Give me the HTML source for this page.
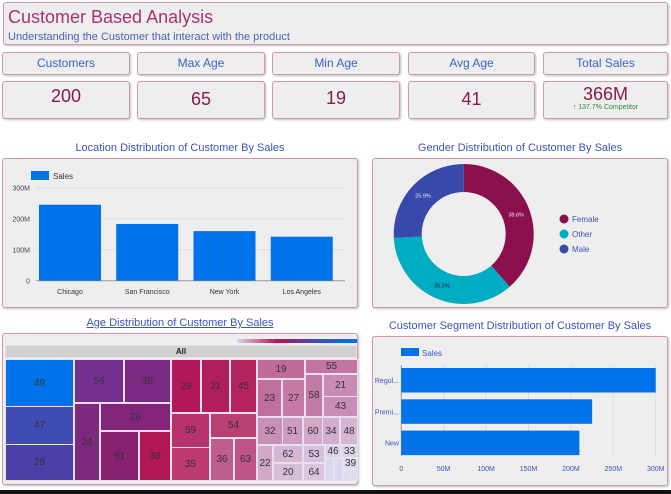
<!DOCTYPE html>
<html><head><meta charset="utf-8">
<style>
*{box-sizing:border-box;margin:0;padding:0}
body{width:671px;height:494px;background:#fff;font-family:"Liberation Sans",sans-serif;position:relative;overflow:hidden}
.box{position:absolute;background:#eeeeee;border:1.5px solid #cf97b4;border-radius:3px;box-shadow:1px 1px 2px rgba(0,0,0,.25)}
.lbl{color:#3a63c8;font-size:12px;text-align:center;line-height:21px}
.val{color:#8a1a4c;font-size:18px;text-align:center;padding-top:5px}
.ttl{position:absolute;color:#3a55b8;font-size:11px;text-align:center}
.cell{position:absolute;border:1px solid #e8e0ea;font-size:10px;color:#333;display:flex;align-items:center;justify-content:center}
</style></head><body>
<div class="box" style="left:3px;top:2px;width:665px;height:43px">
 <div style="position:absolute;left:4px;top:4px;font-size:18px;color:#a8336f">Customer Based Analysis</div>
 <div style="position:absolute;left:4px;top:28px;font-size:11px;color:#5060b8">Understanding the Customer that interact with the product</div>
</div>
<div class="box lbl" style="left:2px;top:52px;width:128px;height:23px">Customers</div>
<div class="box lbl" style="left:137px;top:52px;width:128px;height:23px">Max Age</div>
<div class="box lbl" style="left:272px;top:52px;width:128px;height:23px">Min Age</div>
<div class="box lbl" style="left:408px;top:52px;width:127px;height:23px">Avg Age</div>
<div class="box lbl" style="left:543px;top:52px;width:125px;height:23px">Total Sales</div>
<div class="box val" style="left:2px;top:81px;width:128px;height:38px;padding-top:4px">200</div>
<div class="box val" style="left:137px;top:81px;width:128px;height:38px;padding-top:7px">65</div>
<div class="box val" style="left:272px;top:81px;width:128px;height:38px;padding-top:6px">19</div>
<div class="box val" style="left:408px;top:81px;width:127px;height:38px;padding-top:7px">41</div>
<div class="box val" style="left:543px;top:81px;width:125px;height:38px;padding-top:3px;line-height:18px">366M<div style="font-size:7px;color:#2e8b3a;line-height:9px">↑ 137.7% Competitor</div></div>

<div class="ttl" style="left:2px;top:142px;width:356px">Location Distribution of Customer By Sales</div>
<div class="ttl" style="left:372px;top:142px;width:296px">Gender Distribution of Customer By Sales</div>
<div class="ttl" style="left:2px;top:317px;width:356px;text-decoration:underline">Age Distribution of Customer By Sales</div>
<div class="ttl" style="left:372px;top:320px;width:296px">Customer Segment Distribution of Customer By Sales</div>

<div class="box" style="left:2px;top:158px;width:356px;height:150px"></div>
<div class="box" style="left:372px;top:158px;width:296px;height:150px"></div>
<div class="box" style="left:2px;top:333px;width:356px;height:152px"></div>
<div class="box" style="left:372px;top:336px;width:296px;height:150px"></div>
<div style="position:absolute;left:0;top:490px;width:671px;height:4px;background:#111"></div>

<svg id="s" width="671" height="494" style="position:absolute;left:0;top:0" font-family="Liberation Sans, sans-serif"></svg>
<div id="tm"></div>
<script>
const locCats=["Chicago","San Francisco","New York","Los Angeles"];
const locSales=[245,183,160,142];
const locTicks=[0,100,200,300];
const locTickLabels=["0","100M","200M","300M"];
const segCats=["Regul...","Premi...","New"];
const segSales=[300,225,210];
const segTicks=[0,50,100,150,200,250,300];
const segTickLabels=["0","50M","100M","150M","200M","250M","300M"];
const genderCats=["Female","Other","Male"];
const genderPct=[38.6,35.5,25.9];
const genderColors=["#8a0f4c","#00acc1","#3949ab"];
const ageLabels=["49","47","28","56","38","24","26","61","30","29","31","45","59","54","35","36","63","19","55","23","27","58","21","43","32","51","60","34","48","22","62","20","53","64","46","33","39","","","",""];
const ageColors=["#0073ea","#3f4db2","#4a40a8","#74308f","#7b2a84","#7b287e","#82247a","#86206f","#b01754","#b0185a","#b01e5b","#b4245f","#b7326b","#b94073","#bb3a6f","#bf5d8e","#c0548a","#bf6a98","#c274a2","#c06f9c","#c67ba6","#c27aa6","#c98bb4","#ca8eb6","#c990b7","#cf9cc1","#d3a8c8","#d3add0","#d8b5d4","#d0a8c8","#d6b5d5","#d8bcdc","#d8c0dc","#dcc4e0","#dcd0ea","#dcd4ec","#dcd6ee","#d8d8f0","#d8d8f0","#dcdcf2","#dcdcf2"];
// treemap layout rectangles [x0,y0,x1,y1]
const ageLayout=[[5,359,73,406],[5,406,73,444],[5,444,73,480],[74,359,123,402],[124,359,170,402],[74,403,99,480],[100,403,170,430],[100,431,138,480],[139,431,170,480],[171,359,200,412],[201,359,229,412],[230,359,256,412],[171,413,209,447],[210,413,256,437],[171,447,209,480],[210,438,233,480],[234,438,256,480],[257,359,304,378],[305,359,357,373],[257,379,281,416],[282,379,304,416],[305,374,322,416],[323,374,357,396],[323,396,357,416],[257,417,282,444],[282,417,302,444],[303,417,322,444],[322,417,339,444],[340,417,357,444],[257,445,272,480],[273,445,302,462],[273,463,302,480],[303,445,324,462],[303,463,324,480],[325,445,340,457],[341,445,357,457],[343,458,357,468],[325,458,333,480],[334,458,342,480],[343,469,350,480],[350,469,357,480]];

const s=document.getElementById('s');const NS="http://www.w3.org/2000/svg";
function mk(t,a,txt){const e=document.createElementNS(NS,t);for(const k in a)e.setAttribute(k,a[k]);if(txt!==undefined)e.textContent=txt;s.appendChild(e);return e;}
// Location bar chart
const ly=v=>280.7-v*0.31, lx0=36, lw=309/locCats.length;
locTicks.forEach((t,i)=>{const g=mk('line',{x1:lx0,x2:345,y1:ly(t),y2:ly(t),stroke:i==0?'#999':'#ddd','stroke-width':1});

const l=mk('text',{x:30,y:ly(t)+3,'font-size':7,fill:'#444','text-anchor':'end'},locTickLabels[i]);
});
locCats.forEach((c,i)=>{const x=lx0+lw*i+3;
const r=mk('rect',{x:x,y:ly(locSales[i]),width:62,height:ly(0)-ly(locSales[i]),fill:'#0073ea'});

const t=mk('text',{x:x+31,y:294,'font-size':7,fill:'#333','text-anchor':'middle'},c);
});
let e=mk('rect',{x:31,y:171,width:18,height:9,fill:'#0073ea'});
e=mk('text',{x:53,y:179,'font-size':8,fill:'#333'},'Sales');
// Segment horizontal chart
const sx=v=>401.3+v*0.848;
segTicks.forEach((t,i)=>{const g=mk('line',{x1:sx(t),x2:sx(t),y1:365,y2:456,stroke:i==0?'#999':'#ddd'});

const l=mk('text',{x:sx(t),y:471,'font-size':7,fill:'#3a55b8','text-anchor':'middle'},segTickLabels[i]);
});
segCats.forEach((c,i)=>{const y=368+i*31.3;
const r=mk('rect',{x:sx(0),y:y,width:sx(segSales[i])-sx(0),height:24.5,fill:'#0073ea'});

const t=mk('text',{x:399,y:y+15,'font-size':7,fill:'#3a55b8','text-anchor':'end'},c);
});
e=mk('rect',{x:401,y:348,width:18,height:8,fill:'#0073ea'});
e=mk('text',{x:422,y:356,'font-size':8,fill:'#3a55b8'},'Sales');
// Donut
const cx=463.7,cy=234,R=70,r0=42;let a=-Math.PI/2;const tot=genderPct.reduce((p,q)=>p+q,0);
genderPct.forEach((p,i)=>{const a2=a+p/tot*2*Math.PI,lg=(a2-a)>Math.PI?1:0;
const P=(rr,ang)=>[cx+rr*Math.cos(ang),cy+rr*Math.sin(ang)];
const [x1,y1]=P(R,a),[x2,y2]=P(R,a2),[x3,y3]=P(r0,a2),[x4,y4]=P(r0,a);
const pth=mk('path',{d:`M${x1},${y1}A${R},${R} 0 ${lg} 1 ${x2},${y2}L${x3},${y3}A${r0},${r0} 0 ${lg} 0 ${x4},${y4}Z`,fill:genderColors[i]});

const m=(a+a2)/2,[lx,lyy]=P(56,m);
const t=mk('text',{x:lx,y:lyy+2,'font-size':5.5,fill:i==1?'#222':'#eee','text-anchor':'middle'},p.toFixed(1)+'%');

const c=mk('circle',{cx:564,cy:219+i*15,r:4.5,fill:genderColors[i]});

const lt=mk('text',{x:572,y:222+i*15,'font-size':8,fill:'#3a55b8'},genderCats[i]);

a=a2;});
// Treemap
const tm=document.getElementById('tm');
let h=document.createElement('div');h.className='cell';h.style.cssText='left:5px;top:345px;width:352px;height:13px;background:#d0d0d0;font-weight:bold;font-size:8px;color:#222';h.textContent='All';


tm.appendChild(h);
let gb=document.createElement('div');gb.style.cssText='position:absolute;left:237px;top:339px;width:120px;height:4px;background:linear-gradient(90deg,#d8d8f0,#b01754,#3f4db2,#0073ea)';


tm.appendChild(gb);
ageLabels.forEach((lab,i)=>{const [x0,y0,x1,y1]=ageLayout[i];const d=document.createElement('div');d.className='cell';
d.style.cssText=`left:${x0}px;top:${y0}px;width:${x1-x0+1}px;height:${y1-y0+1}px;background:${ageColors[i]}`;d.textContent=lab;


tm.appendChild(d);});
</script>
</body></html>
